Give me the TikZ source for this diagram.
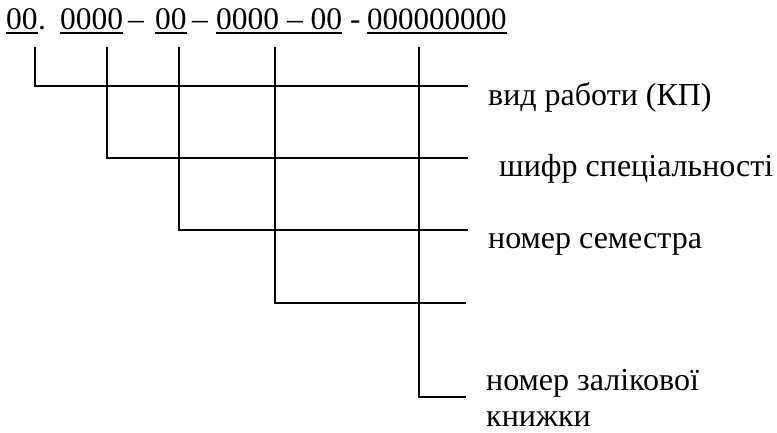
\documentclass[tikz,border=0pt]{standalone}
\usepackage{fontspec}
\setmainfont{Liberation Serif}
\begin{document}
\begin{tikzpicture}[x=1pt,y=-1pt,
  txt/.style={inner sep=0pt,anchor=base west,font=\fontsize{31.5}{37}\selectfont},
  lbl/.style={inner sep=0pt,anchor=base west,font=\fontsize{32}{37}\selectfont},
  ln/.style={line width=1.3pt,line cap=rect},
  ul/.style={line width=1.6pt}]
\useasboundingbox (0,0) rectangle (777,432);
% code line
\node[txt] (c1) at (6,29) {00};
\node[txt] (p1) at (c1.base east) {.};
\node[txt] (c2) at (60,29) {0000};
\node[txt] (d1) at (128,29) {–};
\node[txt] (c3) at (155,29) {00};
\node[txt] (d2) at (192,29) {–};
\node[txt] (c4) at (216,29) {0000 – 00};
\node[txt] (d3) at (350,29) {-};
\node[txt,font=\fontsize{31}{37}\selectfont] (c5) at (367,29) {000000000};
\foreach \n in {c1,c2,c3,c4,c5}
  \draw[ul] ([yshift=-4pt]\n.base west) -- ([yshift=-4pt]\n.base east);
% labels
\node[lbl] (l1) at (488,105) {вид работи (КП)};
\node[lbl] (l2) at (499,176) {шифр спеціальності};
\node[lbl] (l3) at (488,248) {номер семестра};
\node[lbl] (l5) at (486,390) {номер залікової};
\node[lbl] (l5b) at (486,426) {книжки};
% connector ends
\coordinate (s1) at (35,48);  \coordinate (e1) at (467,86);
\coordinate (s2) at (107,48); \coordinate (e2) at (467,158);
\coordinate (s3) at (179,48); \coordinate (e3) at (467,230);
\coordinate (s4) at (275,48); \coordinate (e4) at (465,303);
\coordinate (s5) at (419,48); \coordinate (e5) at (465,397);
\foreach \i in {1,...,5}
  \draw[ln] (s\i) |- (e\i);
\end{tikzpicture}
\end{document}
